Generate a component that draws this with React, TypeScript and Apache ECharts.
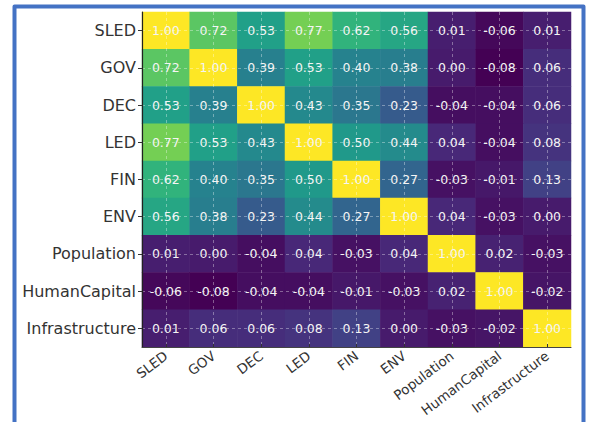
import React, { useEffect, useRef } from "react";
import * as echarts from "echarts";

const variables = ["SLED", "GOV", "DEC", "LED", "FIN", "ENV", "Population", "HumanCapital", "Infrastructure"];

const rowSLED = [1.0, 0.72, 0.53, 0.77, 0.62, 0.56, 0.01, -0.06, 0.01];
const rowGOV = [0.72, 1.0, 0.39, 0.53, 0.4, 0.38, 0.0, -0.08, 0.06];
const rowDEC = [0.53, 0.39, 1.0, 0.43, 0.35, 0.23, -0.04, -0.04, 0.06];
const rowLED = [0.77, 0.53, 0.43, 1.0, 0.5, 0.44, 0.04, -0.04, 0.08];
const rowFIN = [0.62, 0.4, 0.35, 0.5, 1.0, 0.27, -0.03, -0.01, 0.13];
const rowENV = [0.56, 0.38, 0.23, 0.44, 0.27, 1.0, 0.04, -0.03, 0.0];
const rowPopulation = [0.01, 0.0, -0.04, 0.04, -0.03, 0.04, 1.0, 0.02, -0.03];
const rowHumanCapital = [-0.06, -0.08, -0.04, -0.04, -0.01, -0.03, 0.02, 1.0, -0.02];
const rowInfrastructure = [0.01, 0.06, 0.06, 0.08, 0.13, 0.0, -0.03, -0.02, 1.0];

const matrix = [rowSLED, rowGOV, rowDEC, rowLED, rowFIN, rowENV, rowPopulation, rowHumanCapital, rowInfrastructure];

const viridis = ["#440154", "#482878", "#3e4989", "#31688e", "#26828e", "#1f9e89", "#35b779", "#6ece58", "#b5de2b", "#fde725"];

const FONT = "DejaVu Sans";

export default function App() {
  const ref = useRef<HTMLDivElement>(null);

  useEffect(() => {
    if (!ref.current) return;
    const chart = echarts.init(ref.current, undefined, { renderer: "svg" });
    const data: [number, number, number][] = [];
    matrix.forEach((row, yi) => row.forEach((v, xi) => data.push([xi, yi, v])));

    const gridLine = { show: true, alignWithLabel: true, lineStyle: { color: "rgba(255,255,255,0.45)", width: 0.8, type: [3, 3] } };

    chart.setOption({
      animation: false,
      backgroundColor: "#ffffff",
      grid: { left: 142, top: 12, width: 429, height: 335, outerBoundsMode: "none", containLabel: false },
      xAxis: {
        type: "category",
        data: variables,
        z: 10,
        axisLine: { show: true, lineStyle: { color: "#444", width: 1 } },
        axisTick: { show: true, alignWithLabel: true, inside: true, length: 3, lineStyle: { color: "#333" } },
        axisLabel: { rotate: 37, margin: 7, fontSize: 13.5, fontFamily: FONT, color: "#333" },
        splitLine: gridLine,
      },
      yAxis: {
        type: "category",
        data: variables,
        inverse: true,
        z: 10,
        axisLine: { show: true, lineStyle: { color: "#222", width: 1.2 } },
        axisTick: { show: true, alignWithLabel: true, length: 4, lineStyle: { color: "#333" } },
        axisLabel: { margin: 6, fontSize: 16, fontFamily: FONT, color: "#333" },
        splitLine: gridLine,
      },
      visualMap: {
        show: false,
        type: "continuous",
        min: -0.08,
        max: 1.0,
        dimension: 2,
        inRange: { color: viridis },
      },
      graphic: [
        {
          type: "polyline",
          shape: { points: [[14.5, 430], [14.5, 6.5], [583.5, 6.5], [583.5, 430]] },
          style: { fill: "none", stroke: "#4472c4", lineWidth: 4, lineJoin: "round" },
          z: 100,
          silent: true,
        },
      ],
      series: [
        {
          type: "heatmap",
          data,
          label: {
            show: true,
            formatter: (p: any) => p.value[2].toFixed(2),
            color: "#f4f4f4",
            fontSize: 12.5,
            fontFamily: FONT,
          },
          itemStyle: { borderWidth: 0 },
          emphasis: { disabled: true },
        },
      ],
    });
    return () => chart.dispose();
  }, []);

  return <div ref={ref} style={{ position: "absolute", left: 0, top: 0, width: 589, height: 422 }} />;
}
